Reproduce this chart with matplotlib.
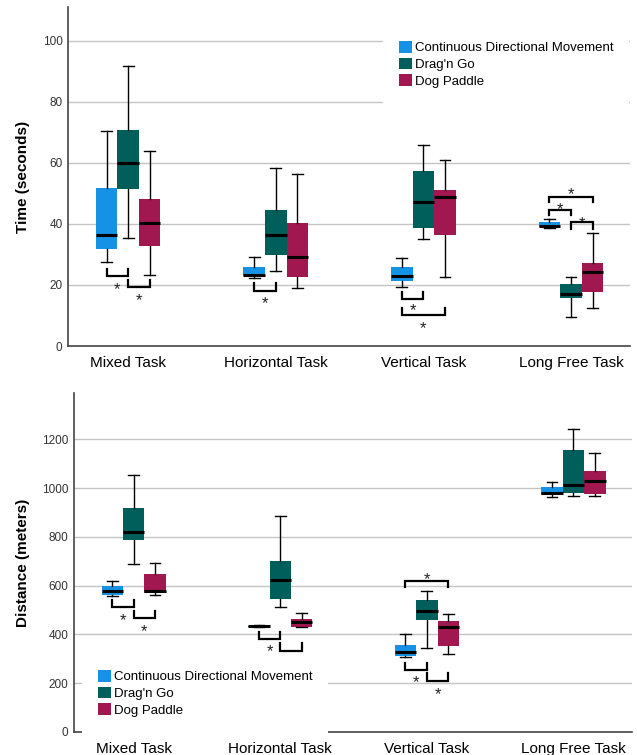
import numpy as np
import matplotlib
matplotlib.use("Agg")
import matplotlib.pyplot as plt
from matplotlib.patches import Patch

plt.rcParams["font.family"] = ["Liberation Sans", "DejaVu Sans"]

# 1. DATA (five-number summaries)
tasks = ["Mixed Task", "Horizontal Task", "Vertical Task", "Long Free Task"]
methods = ["Continuous Directional Movement", "Drag'n Go", "Dog Paddle"]
colors = ["#1592E6", "#005E5B", "#A0184F"]

# time (seconds): [whisker low, q1, median, q3, whisker high] per task
time_cdm = [[27.5, 31.9, 36.2, 51.9, 70.5],
            [22.2, 22.8, 23.3, 25.9, 29.2],
            [19.3, 21.4, 22.8, 25.8, 28.9],
            [38.6, 39.1, 39.4, 40.6, 41.6]]
time_drag = [[35.5, 51.5, 59.9, 70.6, 91.7],
             [24.7, 29.9, 36.3, 44.4, 58.2],
             [34.9, 38.6, 47.0, 57.2, 65.8],
             [9.5, 15.8, 17.1, 20.2, 22.7]]
time_dog = [[23.2, 32.7, 40.4, 48.0, 64.0],
            [19.0, 22.7, 29.0, 40.2, 56.4],
            [22.6, 36.3, 48.8, 51.0, 61.0],
            [12.5, 17.8, 24.1, 27.1, 37.1]]

# distance (meters)
dist_cdm = [[558, 562, 576, 598, 620],
            [430, 432, 434, 436, 438],
            [308, 311, 327, 356, 400],
            [962, 970, 978, 1003, 1026]]
dist_drag = [[687, 788, 819, 918, 1052],
             [513, 546, 622, 699, 884],
             [346, 461, 497, 540, 576],
             [966, 981, 1014, 1155, 1243]]
dist_dog = [[560, 568, 577, 647, 691],
            [430, 431, 450, 462, 488],
            [319, 353, 430, 454, 483],
            [966, 977, 1030, 1070, 1142]]

# significance brackets: (task, method a, method b, line y, tip y, star y)
time_brackets = [(0, 0, 1, 22.8, 25.3, 20.3),
                 (0, 1, 2, 19.2, 21.6, 16.4),
                 (1, 0, 1, 18.0, 20.5, 15.6),
                 (2, 0, 1, 15.4, 17.8, 13.4),
                 (2, 0, 2, 10.0, 12.3, 7.4),
                 (3, 0, 2, 48.9, 47.1, 51.1),
                 (3, 0, 1, 44.7, 42.8, 46.5),
                 (3, 1, 2, 40.5, 38.3, 41.8)]
dist_brackets = [(0, 0, 1, 513, 543, 479),
                 (0, 1, 2, 467, 498, 434),
                 (1, 0, 1, 382, 410, 349),
                 (1, 1, 2, 334, 365, 305),
                 (2, 0, 2, 617, 593, 646),
                 (2, 0, 1, 253, 283, 222),
                 (2, 1, 2, 207, 240, 175)]

BOX_W = 0.146


def pos(task, m):
    return task + (m - 1) * BOX_W


# 2. DRAW ONE PANEL
def draw_panel(ax, series, brackets, ylim, yticks, ylabel, label_x, legend_xy):
    for m, summary in enumerate(series):
        stats = [{"whislo": s[0], "q1": s[1], "med": s[2], "q3": s[3],
                  "whishi": s[4], "fliers": []} for s in summary]
        ax.bxp(stats, positions=[pos(t, m) for t in range(len(tasks))],
               widths=BOX_W, capwidths=BOX_W * 0.5, patch_artist=True,
               showfliers=False, manage_ticks=False,
               boxprops=dict(facecolor=colors[m], edgecolor="none", linewidth=0),
               medianprops=dict(color="black", linewidth=2.2),
               whiskerprops=dict(color="black", linewidth=1),
               capprops=dict(color="black", linewidth=1),
               zorder=3)

    fs = 12
    for t, a, b, ly, ty, sy in brackets:
        xa, xb = pos(t, a), pos(t, b)
        ax.plot([xa, xa, xb, xb], [ty, ly, ly, ty], color="black",
                linewidth=1.6, solid_joinstyle="miter", zorder=4)
        ax.annotate("*", ((xa + xb) / 2, sy), xytext=(0, -0.58 * fs),
                    textcoords="offset points", ha="center", va="baseline",
                    fontsize=fs, color="#222222")

    ax.set_xlim(-0.407, 3.40)
    ax.set_ylim(*ylim)
    ax.set_yticks(yticks)
    ax.set_xticks(range(len(tasks)))
    ax.set_xticklabels(tasks, fontsize=11)
    ax.tick_params(axis="y", length=0, pad=4, labelsize=8.5, labelcolor="#333333")
    ax.tick_params(axis="x", length=0, pad=7)
    ax.grid(axis="y", color="#c4c4c4", linewidth=1)
    ax.set_axisbelow(True)
    for side in ["top", "right"]:
        ax.spines[side].set_visible(False)
    for side in ["left", "bottom"]:
        ax.spines[side].set_color("#444444")
        ax.spines[side].set_linewidth(1.2)
    ax.set_ylabel(ylabel, fontsize=11, fontweight="bold")
    ax.yaxis.set_label_coords(label_x, 0.5)

    handles = [Patch(facecolor=c, edgecolor="none") for c in colors]
    leg = ax.legend(handles, methods, loc="upper left", bbox_to_anchor=legend_xy,
                    fontsize=9.5, frameon=True, facecolor="white", edgecolor="none",
                    framealpha=1, fancybox=False, borderpad=1.2, labelspacing=0.25,
                    handlelength=1.0, handleheight=1.0, handletextpad=0.2,
                    borderaxespad=0)
    leg.set_zorder(5)


# 3. FIGURE
fig = plt.figure(figsize=(6.37, 7.55), dpi=100)
ax_top = fig.add_axes([0.1068, 0.5417, 0.8823, 0.449])
ax_bot = fig.add_axes([0.1162, 0.0305, 0.876, 0.449])

draw_panel(ax_top, [time_cdm, time_drag, time_dog], time_brackets,
           (0, 111), np.arange(0, 101, 20), "Time (seconds)", -0.068,
           (0.5605, 0.947))
draw_panel(ax_bot, [dist_cdm, dist_drag, dist_dog], dist_brackets,
           (0, 1390), np.arange(0, 1201, 200), "Distance (meters)", -0.079,
           (0.0143, 0.230))

fig.savefig("out.png", dpi=100)
